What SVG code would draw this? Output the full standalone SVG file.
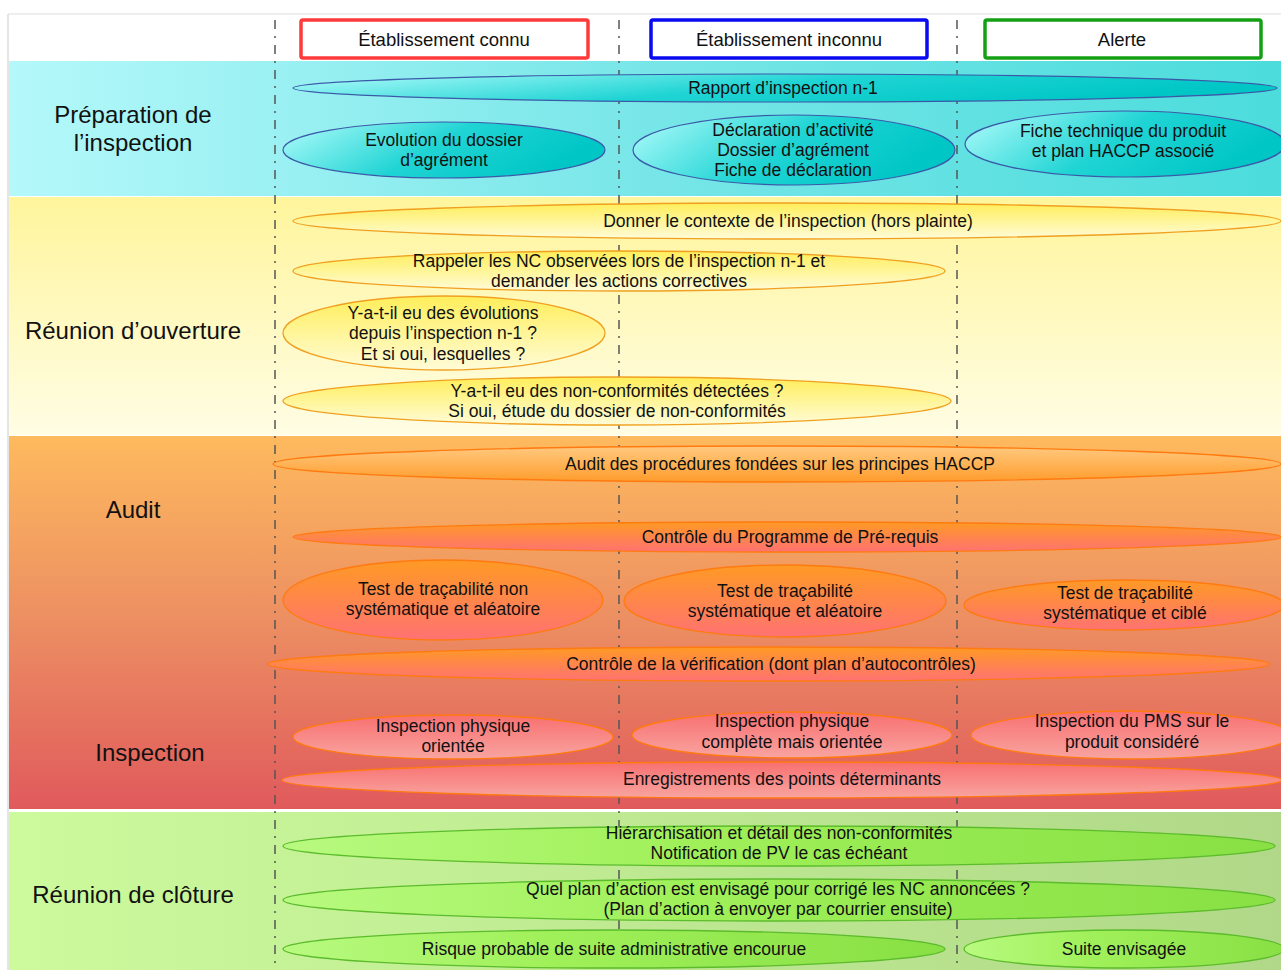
<svg xmlns="http://www.w3.org/2000/svg" width="1281" height="970" viewBox="0 0 1281 970">
<defs>
<linearGradient id="bgPrep" x1="0" y1="0" x2="1" y2="0"><stop offset="0" stop-color="#b4f8fa"/><stop offset="0.5" stop-color="#78e6e8"/><stop offset="1" stop-color="#4cdcdc"/></linearGradient>
<linearGradient id="bgOuv" x1="0" y1="0" x2="0" y2="1"><stop offset="0" stop-color="#fff59c"/><stop offset="1" stop-color="#fffde4"/></linearGradient>
<linearGradient id="bgAudit" x1="0" y1="0" x2="0" y2="1"><stop offset="0" stop-color="#feba5e"/><stop offset="0.5" stop-color="#ec8e62"/><stop offset="1" stop-color="#e05a5c"/></linearGradient>
<linearGradient id="bgClot" x1="0" y1="0" x2="1" y2="0"><stop offset="0" stop-color="#ccfa9c"/><stop offset="1" stop-color="#b0d888"/></linearGradient>
<linearGradient id="gCyan" x1="0" y1="0" x2="1" y2="0.3"><stop offset="0" stop-color="#b4fcfc"/><stop offset="0.55" stop-color="#20d4d4"/><stop offset="1" stop-color="#00c6c6"/></linearGradient>
<linearGradient id="gYel" x1="0" y1="0" x2="0" y2="1"><stop offset="0" stop-color="#ffee5a"/><stop offset="1" stop-color="#fffcd8"/></linearGradient>
<linearGradient id="gOrLight" x1="0" y1="0" x2="0" y2="1"><stop offset="0" stop-color="#ffca80"/><stop offset="1" stop-color="#ff9c2c"/></linearGradient>
<linearGradient id="gOr" x1="0" y1="0" x2="0" y2="1"><stop offset="0" stop-color="#ff9a24"/><stop offset="1" stop-color="#ff7272"/></linearGradient>
<linearGradient id="gRed" x1="0" y1="0" x2="0" y2="1"><stop offset="0" stop-color="#f87070"/><stop offset="1" stop-color="#f8a4a0"/></linearGradient>
<linearGradient id="gGreen" x1="0" y1="0" x2="1" y2="0"><stop offset="0" stop-color="#b8fa80"/><stop offset="0.4" stop-color="#a0f05a"/><stop offset="1" stop-color="#88e044"/></linearGradient>
</defs>
<style>
text{font-family:"Liberation Sans",Arial,sans-serif;fill:#111;text-anchor:middle;dominant-baseline:central}
.lane{font-size:24px}
.hd{font-size:18.5px}
.t{font-size:17.5px}
.cy{fill:url(#gCyan);stroke:#3a5aa8;stroke-width:1.2}
.ye{fill:url(#gYel);stroke:#f0a020;stroke-width:1.3}
.ol{fill:url(#gOrLight);stroke:#ff7a10;stroke-width:1.3}
.or{fill:url(#gOr);stroke:#ff7a10;stroke-width:1.3}
.rd{fill:url(#gRed);stroke:#ff7a10;stroke-width:1.3}
.gr{fill:url(#gGreen);stroke:#5cbc2c;stroke-width:1.3}
.sep{stroke:#555;stroke-width:1.5;stroke-dasharray:9 7 2 7;fill:none}
</style>
<rect x="0" y="0" width="1281" height="970" fill="#fff"/>
<g id="background">
<line x1="8" y1="14" x2="1281" y2="14" stroke="#ddd" stroke-width="1"/>
<line x1="8" y1="14" x2="8" y2="970" stroke="#ccc" stroke-width="1"/>
<rect x="9" y="61" width="1272" height="135" fill="url(#bgPrep)"/>
<rect x="9" y="197" width="1272" height="238" fill="url(#bgOuv)"/>
<rect x="9" y="436" width="1272" height="373" fill="url(#bgAudit)"/>
<rect x="9" y="812" width="1272" height="158" fill="url(#bgClot)"/>
</g>
<g id="separators">
<line class="sep" x1="275" y1="20" x2="275" y2="970"/>
<line class="sep" x1="619" y1="20" x2="619" y2="970"/>
<line class="sep" x1="957" y1="20" x2="957" y2="970"/>
</g>
<g id="lanes">
<text class="lane" x="133" y="114">Préparation de</text>
<text class="lane" x="133" y="142">l’inspection</text>
<text class="lane" x="133" y="330">Réunion d’ouverture</text>
<text class="lane" x="133" y="509">Audit</text>
<text class="lane" x="150" y="752">Inspection</text>
<text class="lane" x="133" y="894">Réunion de clôture</text>
</g>
<g id="h-connu"><rect x="301" y="20" width="287" height="38" rx="2" fill="#fff" stroke="#ff3a3a" stroke-width="3.5"/><text class="hd" x="444" y="39">Établissement connu</text></g>
<g id="h-inconnu"><rect x="651" y="20" width="276" height="38" rx="2" fill="#fff" stroke="#0a0af0" stroke-width="3.5"/><text class="hd" x="789" y="39">Établissement inconnu</text></g>
<g id="h-alerte"><rect x="985" y="20" width="276" height="38" rx="2" fill="#fff" stroke="#14a014" stroke-width="3.5"/><text class="hd" x="1122" y="39">Alerte</text></g>

<g id="n-rapport"><ellipse class="cy" cx="785" cy="88" rx="492" ry="14"/><text class="t" x="783" y="88">Rapport d’inspection n-1</text></g>
<g id="n-evolution"><ellipse class="cy" cx="444" cy="150" rx="161" ry="28"/><text class="t" x="444" y="140">Evolution du dossier</text><text class="t" x="444" y="160">d’agrément</text></g>
<g id="n-declaration"><ellipse class="cy" cx="794" cy="150" rx="161" ry="35"/><text class="t" x="793" y="130">Déclaration d’activité</text><text class="t" x="793" y="150">Dossier d’agrément</text><text class="t" x="793" y="170">Fiche de déclaration</text></g>
<g id="n-fiche"><ellipse class="cy" cx="1125" cy="144" rx="160" ry="33"/><text class="t" x="1123" y="131">Fiche technique du produit</text><text class="t" x="1123" y="151">et plan HACCP associé</text></g>

<g id="n-contexte"><ellipse class="ye" cx="787" cy="221" rx="494" ry="18"/><text class="t" x="788" y="221">Donner le contexte de l’inspection (hors plainte)</text></g>
<g id="n-rappeler"><ellipse class="ye" cx="619" cy="271" rx="326" ry="20"/><text class="t" x="619" y="261">Rappeler les NC observées lors de l’inspection n-1 et</text><text class="t" x="619" y="281">demander les actions correctives</text></g>
<g id="n-evolutions"><ellipse class="ye" cx="444" cy="333" rx="161" ry="37"/><text class="t" x="443" y="313">Y-a-t-il eu des évolutions</text><text class="t" x="443" y="333">depuis l’inspection n-1 ?</text><text class="t" x="443" y="354">Et si oui, lesquelles ?</text></g>
<g id="n-nonconf"><ellipse class="ye" cx="617" cy="401" rx="334" ry="24"/><text class="t" x="617" y="391">Y-a-t-il eu des non-conformités détectées ?</text><text class="t" x="617" y="411">Si oui, étude du dossier de non-conformités</text></g>

<g id="n-haccp"><ellipse class="ol" cx="777" cy="464" rx="504" ry="18"/><text class="t" x="780" y="464">Audit des procédures fondées sur les principes HACCP</text></g>
<g id="n-ppr"><ellipse class="or" cx="787" cy="537" rx="494" ry="15"/><text class="t" x="790" y="537">Contrôle du Programme de Pré-requis</text></g>
<g id="n-test1"><ellipse class="or" cx="443" cy="600" rx="160" ry="40"/><text class="t" x="443" y="589">Test de traçabilité non</text><text class="t" x="443" y="609">systématique et aléatoire</text></g>
<g id="n-test2"><ellipse class="or" cx="785" cy="601" rx="161" ry="36"/><text class="t" x="785" y="591">Test de traçabilité</text><text class="t" x="785" y="611">systématique et aléatoire</text></g>
<g id="n-test3"><ellipse class="or" cx="1124" cy="605" rx="160" ry="25"/><text class="t" x="1125" y="593">Test de traçabilité</text><text class="t" x="1125" y="613">systématique et ciblé</text></g>
<g id="n-verif"><ellipse class="or" cx="769" cy="664" rx="501" ry="17"/><text class="t" x="771" y="664">Contrôle de la vérification (dont plan d’autocontrôles)</text></g>

<g id="n-insp1"><ellipse class="rd" cx="453" cy="737" rx="160" ry="22"/><text class="t" x="453" y="726">Inspection physique</text><text class="t" x="453" y="746">orientée</text></g>
<g id="n-insp2"><ellipse class="rd" cx="792" cy="735" rx="160" ry="23"/><text class="t" x="792" y="721">Inspection physique</text><text class="t" x="792" y="742">complète mais orientée</text></g>
<g id="n-insp3"><ellipse class="rd" cx="1131" cy="735" rx="160" ry="24"/><text class="t" x="1132" y="721">Inspection du PMS sur le</text><text class="t" x="1132" y="742">produit considéré</text></g>
<g id="n-enreg"><ellipse class="rd" cx="782" cy="780" rx="500" ry="18"/><text class="t" x="782" y="779">Enregistrements des points déterminants</text></g>

<g id="n-hier"><ellipse class="gr" cx="779" cy="846" rx="496" ry="20"/><text class="t" x="779" y="833">Hiérarchisation et détail des non-conformités</text><text class="t" x="779" y="853">Notification de PV le cas échéant</text></g>
<g id="n-plan"><ellipse class="gr" cx="779" cy="900" rx="496" ry="21"/><text class="t" x="778" y="889">Quel plan d’action est envisagé pour corrigé les NC annoncées ?</text><text class="t" x="778" y="909">(Plan d’action à envoyer par courrier ensuite)</text></g>
<g id="n-risque"><ellipse class="gr" cx="614" cy="949" rx="331" ry="19"/><text class="t" x="614" y="949">Risque probable de suite administrative encourue</text></g>
<g id="n-suite"><ellipse class="gr" cx="1124" cy="949" rx="160" ry="19"/><text class="t" x="1124" y="949">Suite envisagée</text></g>
</svg>
